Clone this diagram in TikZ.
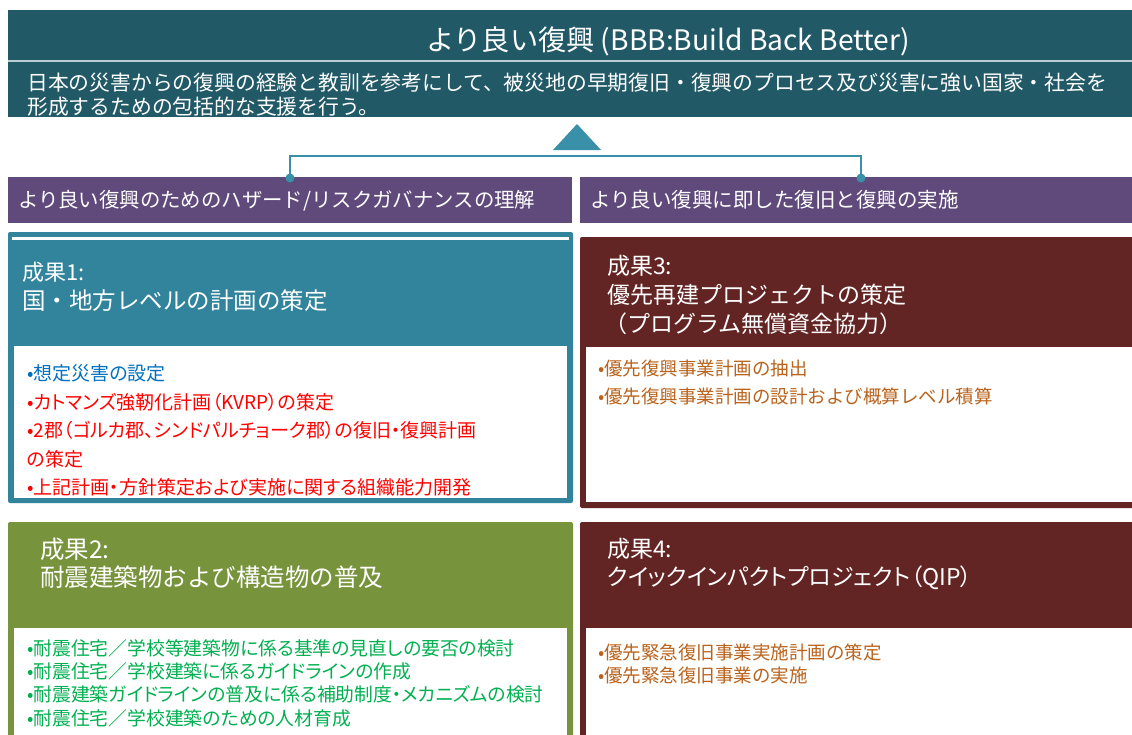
\documentclass[tikz,border=0pt]{standalone}
\usepackage{fontspec}
\setmainfont{Noto Sans CJK JP}
\newfontfamily\jpp[RawFeature=+palt]{Noto Sans CJK JP}
\definecolor{banner}{HTML}{215967}
\definecolor{sepline}{HTML}{B9CFD4}
\definecolor{conn}{HTML}{3A90A8}
\definecolor{purp}{HTML}{604A7B}
\definecolor{tealbox}{HTML}{31849B}
\definecolor{olive}{HTML}{77933C}
\definecolor{maroon}{HTML}{632523}
\definecolor{brownt}{HTML}{B9631D}
\definecolor{bluet}{HTML}{0070C0}
\definecolor{redt}{HTML}{FF0000}
\definecolor{greent}{HTML}{00B050}
\begin{document}
\begin{tikzpicture}[x=1pt,y=-1pt,
  txt/.style={anchor=base west, inner sep=0pt, font=\fontsize{#1}{#1}\selectfont},
  txtp/.style={anchor=base west, inner sep=0pt, font=\jpp\fontsize{#1}{#1}\selectfont},
  boxn/.style={anchor=north west, inner sep=0pt, outer sep=0pt, rounded corners=2pt},
  whiten/.style={anchor=north west, inner sep=0pt, outer sep=0pt, fill=white},
  connline/.style={draw=conn, line width=2.5pt}]
\useasboundingbox (0,0) rectangle (1132,734);
\fill[white] (0,0) rectangle (1132,734);

% banner
\node[anchor=north west, inner sep=0pt, fill=banner, minimum width=1124pt, minimum height=107pt] (ban) at (8,10) {};
\draw[sepline, line width=2pt] (ban.west |- 0,61) -- (ban.east |- 0,61);
\node[anchor=base, inner sep=0pt, text=white, font=\fontsize{28.2}{28.2}\selectfont] (title) at (668,50.5) {より良い復興 (BBB:Build Back Better)};
\node[txt=20.8, text=white] (sub1) at (27,90) {日本の災害からの復興の経験と教訓を参考にして、被災地の早期復旧・復興のプロセス及び災害に強い国家・社会を};
\node[txt=20.8, text=white] (sub2) at (27,114) {形成するための包括的な支援を行う。};

% triangle
\fill[conn] (553,150) -- (577,124) -- (601,150) -- cycle;

% purple bars
\node[anchor=north west, inner sep=0pt, fill=purp, minimum width=564pt, minimum height=46pt] (lbar) at (8,177) {};
\node[anchor=north west, inner sep=0pt, fill=purp, minimum width=552pt, minimum height=46pt] (rbar) at (580,177) {};
\node[txt=20.4, text=white] (lbart) at (18,207.7) {より良い復興のためのハザード/リスクガバナンスの理解};
\node[txt=20.5, text=white] (rbart) at (590,207.7) {より良い復興に即した復旧と復興の実施};

% connector
\coordinate (lj) at (290,178);
\coordinate (rj) at (861,178);
\coordinate (topj) at (577,156);
\draw[connline] (lj) |- (topj) -| (rj);
\fill[conn] (lj) circle (4.5pt);
\fill[conn] (rj) circle (4.5pt);

% box 1
\node[boxn, fill=tealbox, minimum width=565pt, minimum height=271pt] (b1) at (8,232) {};
\draw[white, line width=2.5pt] (12,238.5) -- (569,238.5);
\node[whiten, minimum width=553pt, minimum height=152pt] (b1w) at (14,346) {};
\node[txt=22, text=white] (b1h1) at (22,280.4) {成果1:};
\node[txt=23.5, text=white] (b1h2) at (22,309.9) {国・地方レベルの計画の策定};
\node[txtp=19, text=bluet] (b1a) at (27,380.2) {•想定災害の設定};
\node[txtp=19, text=redt] (b1b) at (27,409.2) {•カトマンズ強靭化計画（KVRP）の策定};
\node[txtp=19, text=redt] (b1c) at (27,437.2) {•2郡（ゴルカ郡、シンドパルチョーク郡）の復旧・復興計画};
\node[txtp=19, text=redt] (b1d) at (27,466.2) {の策定};
\node[txtp=19, text=redt] (b1e) at (27,494.2) {•上記計画・方針策定および実施に関する組織能力開発};

% box 3
\node[boxn, fill=maroon, minimum width=560pt, minimum height=271pt] (b3) at (580,237) {};
\node[whiten, minimum width=554pt, minimum height=155pt] (b3w) at (586,347) {};
\node[txt=23, text=white] (b3h1) at (607,274.7) {成果3:};
\node[txt=23, text=white] (b3h2) at (607,303.7) {優先再建プロジェクトの策定};
\node[txt=23, text=white] (b3h3) at (604,332.7) {（プログラム無償資金協力）};
\node[txt=18.5, text=brownt] (b3a) at (598,375) {•優先復興事業計画の抽出};
\node[txt=18.5, text=brownt] (b3b) at (598,403) {•優先復興事業計画の設計および概算レベル積算};

% box 2
\node[boxn, fill=olive, minimum width=565pt, minimum height=220pt] (b2) at (8,522) {};
\node[whiten, minimum width=553pt, minimum height=112pt] (b2w) at (14,628) {};
\node[txt=24.5, text=white] (b2h1) at (40,558.3) {成果2:};
\node[txt=24.5, text=white] (b2h2) at (40,586.3) {耐震建築物および構造物の普及};
\node[txtp=18.8, text=greent] (b2a) at (27,655.1) {•耐震住宅／学校等建築物に係る基準の見直しの要否の検討};
\node[txtp=18.8, text=greent] (b2b) at (27,678.1) {•耐震住宅／学校建築に係るガイドラインの作成};
\node[txtp=18.8, text=greent] (b2c) at (27,701.1) {•耐震建築ガイドラインの普及に係る補助制度・メカニズムの検討};
\node[txtp=18.8, text=greent] (b2d) at (27,725.1) {•耐震住宅／学校建築のための人材育成};

% box 4
\node[boxn, fill=maroon, minimum width=560pt, minimum height=220pt] (b4) at (580,522) {};
\node[whiten, minimum width=554pt, minimum height=112pt] (b4w) at (586,628) {};
\node[txt=23, text=white] (b4h1) at (607,557.7) {成果4:};
\node[txtp=23, text=white] (b4h2) at (607,585.7) {クイックインパクトプロジェクト（QIP）};
\node[txt=18.5, text=brownt] (b4a) at (598,659) {•優先緊急復旧事業実施計画の策定};
\node[txt=18.5, text=brownt] (b4b) at (598,682) {•優先緊急復旧事業の実施};
\end{tikzpicture}
\end{document}
